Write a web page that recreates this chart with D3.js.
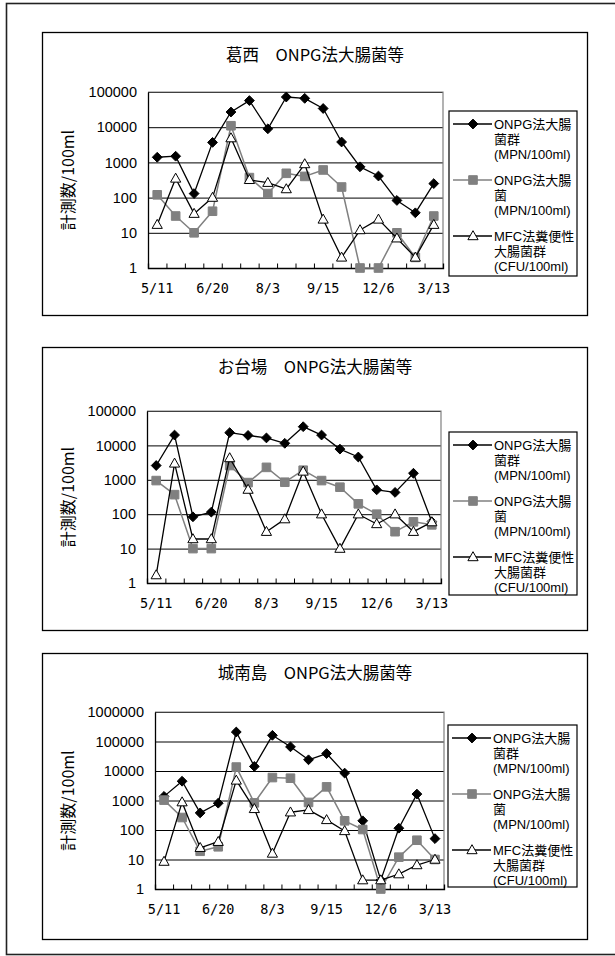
<!DOCTYPE html>
<html><head><meta charset="utf-8">
<script src="https://cdn.jsdelivr.net/npm/d3@7"></script>
<style>
html,body{margin:0;padding:0;background:#fff;}
svg{display:block;}
.leg{font-family:'Liberation Sans','Noto Sans CJK JP',sans-serif;font-size:13px;line-height:15px;white-space:pre;color:#000;margin:0;padding:0;}
</style></head>
<body>
<script>
// ---- data ----
const samples = [1,2,3,4,5,6,7,8,9,10,11,12,13,14,15,16];
const dateLabels = ["5/11","","","6/20","","","8/3","","","9/15","","","12/6","","","3/13"];
const yTicks5 = [1,10,100,1000,10000,100000];
const yTicks6 = [1,10,100,1000,10000,100000,1000000];
const seriesNames = [
  ["ONPG法大腸","菌群","(MPN/100ml)"],
  ["ONPG法大腸","菌","(MPN/100ml)"],
  ["MFC法糞便性","大腸菌群","(CFU/100ml)"]
];
const titles = ["葛西　ONPG法大腸菌等","お台場　ONPG法大腸菌等","城南島　ONPG法大腸菌等"];
const yTitle = "計測数/100ml";

const kasaiColiform = [1400,1500,130,3700,27000,57000,9000,72000,66000,34000,3800,750,410,83,37,250];
const kasaiEcoli    = [120,30,10,41,11000,370,130,490,400,610,200,1,1,10,2,30];
const kasaiMfc      = [17,350,35,100,4900,320,265,175,900,24,2,12,24,7,2,17];

const odaibaColiform = [2600,20000,84,115,23500,19500,16500,11500,35000,20000,7800,4600,510,430,1550,60];
const odaibaEcoli    = [950,370,10,10,2600,830,2300,850,1900,950,610,200,100,31,60,49];
const odaibaMfc      = [1.7,3000,19,19,4300,520,31,72,1750,100,10,100,52,100,31,59];

const jonanColiform = [1380,4500,380,810,210000,14300,162000,66000,24000,39000,8500,205,2,115,1650,51];
const jonanEcoli    = [1030,265,19,27,13600,830,6000,5700,860,2900,205,104,1,12,45,10];
const jonanMfc      = [8.5,880,25,40,4800,520,16,400,480,220,93,2,2,3.2,6.5,10];

// ---- layout ----
const W = 615, H = 956;
const panels = [
  {title:titles[0], series:[kasaiColiform,kasaiEcoli,kasaiMfc], ticks:yTicks5,
   box:{x0:42.5,y0:32.5,x1:587.5,y1:315.5}, plot:{x0:148,x1:443,y0:92,y1:268},
   titleY:55, legend:{x0:449,y0:111,x1:577,y1:276}},
  {title:titles[1], series:[odaibaColiform,odaibaEcoli,odaibaMfc], ticks:yTicks5,
   box:{x0:42.5,y0:347.5,x1:587.5,y1:630.5}, plot:{x0:147,x1:441,y0:411,y1:583},
   titleY:367, legend:{x0:449,y0:432,x1:577,y1:595}},
  {title:titles[2], series:[jonanColiform,jonanEcoli,jonanMfc], ticks:yTicks6,
   box:{x0:42.5,y0:653.5,x1:587.5,y1:939.5}, plot:{x0:155,x1:444,y0:712,y1:889},
   titleY:673, legend:{x0:448,y0:725,x1:577,y1:887}}
];
const styles = [
  {stroke:"#000", width:1.3, marker:"diamond", fill:"#000", mstroke:"#000"},
  {stroke:"#808080", width:1.5, marker:"square", fill:"#808080", mstroke:"#808080"},
  {stroke:"#000", width:1.3, marker:"triangle", fill:"#fff", mstroke:"#000"}
];
function markerPath(kind){
  if(kind==="diamond"){ return "M0,-4.9L4.9,0L0,4.9L-4.9,0Z"; }
  if(kind==="square"){ return "M-4.3,-4.3H4.3V4.3H-4.3Z"; }
  return "M0,-5.3L5.1,3.7L-5.1,3.7Z";
}

const svg = d3.select("body").append("svg").attr("width",W).attr("height",H);
svg.append("rect").attr("x",0).attr("y",0).attr("width",W).attr("height",H).attr("fill","#fff");
// outer frame
svg.append("rect").attr("x",6.5).attr("y",3.5).attr("width",W+10).attr("height",951)
  .attr("fill","none").attr("stroke","#222").attr("stroke-width",1.6);

const cjk = "'Noto Sans CJK JP', sans-serif";
const latin = "'Liberation Sans', Arial, sans-serif";

panels.forEach(p=>{
  const g = svg.append("g");
  g.append("rect").attr("x",p.box.x0).attr("y",p.box.y0)
    .attr("width",p.box.x1-p.box.x0).attr("height",p.box.y1-p.box.y0)
    .attr("fill","#fff").attr("stroke","#000").attr("stroke-width",1.3);

  const x = d3.scaleBand().domain(samples).range([p.plot.x0,p.plot.x1]).paddingInner(0).paddingOuter(0);
  const xb = d3.scaleLinear().domain([0,samples.length]).range([p.plot.x0,p.plot.x1]);
  const y = d3.scaleLog().domain([p.ticks[0], p.ticks[p.ticks.length-1]]).range([p.plot.y1,p.plot.y0]);
  const pw = p.plot.x1-p.plot.x0;

  // title
  g.append("text").attr("x",(p.box.x0+p.box.x1)/2).attr("y",p.titleY).attr("dy","0.36em")
    .attr("text-anchor","middle").attr("font-family",cjk).attr("font-size",16.5).attr("fill","#000")
    .text(p.title);

  // gridlines
  const grid = g.append("g").attr("transform",`translate(${p.plot.x0},0)`)
    .call(d3.axisLeft(y).tickValues(p.ticks).tickSize(-pw).tickFormat(""));
  grid.select(".domain").remove();
  grid.selectAll("line").attr("stroke","#000").attr("stroke-width",1);

  // plot border top/right grey
  g.append("path").attr("d",`M${p.plot.x0},${p.plot.y0}H${p.plot.x1}V${p.plot.y1}`)
    .attr("fill","none").attr("stroke","#808080").attr("stroke-width",1.2);

  // y axis labels
  const ya = g.append("g").attr("transform",`translate(${p.plot.x0},0)`)
    .call(d3.axisLeft(y).tickValues(p.ticks).tickSize(0).tickPadding(11).tickFormat(d3.format("d")));
  ya.select(".domain").attr("stroke","#000").attr("stroke-width",1.3);
  ya.selectAll("text").attr("font-family",latin).attr("font-size",14.5).attr("fill","#000");

  // x axis line + inward ticks at category boundaries
  const xt = g.append("g").attr("transform",`translate(0,${p.plot.y1})`)
    .call(d3.axisBottom(xb).tickValues(d3.range(1,samples.length)).tickSize(-4.5).tickFormat(""));
  xt.select(".domain").attr("stroke","#000").attr("stroke-width",1.3);
  xt.selectAll("line").attr("stroke","#000").attr("stroke-width",1);

  const xl = g.append("g").attr("transform",`translate(0,${p.plot.y1})`)
    .call(d3.axisBottom(x).tickSize(0).tickPadding(15).tickFormat((d,i)=>dateLabels[i]));
  xl.select(".domain").remove();
  xl.selectAll("text").attr("font-family","'DejaVu Sans Mono', monospace").attr("font-size",13.5).attr("fill","#000");

  // y title
  g.append("text").attr("transform",`translate(${p.box.x0+25.5},${(p.plot.y0+p.plot.y1)/2}) rotate(-90)`)
    .attr("text-anchor","middle").attr("dy","0.36em").attr("font-family",cjk).attr("font-size",16).attr("fill","#000")
    .text(yTitle);

  // series
  p.series.forEach((vals,si)=>{
    const st = styles[si];
    const line = d3.line().x((d,i)=>x(samples[i])+x.bandwidth()/2).y(d=>y(d));
    g.append("path").datum(vals).attr("d",line).attr("fill","none")
      .attr("stroke",st.stroke).attr("stroke-width",st.width).attr("stroke-linejoin","round");
    g.selectAll(null).data(vals).enter().append("path")
      .attr("transform",(d,i)=>`translate(${x(samples[i])+x.bandwidth()/2},${y(d)})`)
      .attr("d",markerPath(st.marker)).attr("fill",st.fill).attr("stroke",st.mstroke).attr("stroke-width",1);
  });

  // legend
  const L = p.legend;
  g.append("rect").attr("x",L.x0).attr("y",L.y0).attr("width",L.x1-L.x0).attr("height",L.y1-L.y0)
    .attr("fill","#fff").attr("stroke","#000").attr("stroke-width",1.2);
  seriesNames.forEach((lines,si)=>{
    const st = styles[si];
    const ey = L.y0 + 13 + si*56;
    g.append("line").attr("x1",L.x0+4).attr("x2",L.x0+43).attr("y1",ey).attr("y2",ey)
      .attr("stroke",st.stroke).attr("stroke-width",st.width);
    g.append("path").attr("transform",`translate(${L.x0+24},${ey})`).attr("d",markerPath(st.marker))
      .attr("fill",st.fill).attr("stroke",st.mstroke).attr("stroke-width",1);
    g.append("foreignObject").attr("x",L.x0+45).attr("y",ey-7.5).attr("width",L.x1-L.x0-46).attr("height",47)
      .append("xhtml:div").attr("class","leg").text(lines.join("\n"));
  });
});
</script>
</body></html>
